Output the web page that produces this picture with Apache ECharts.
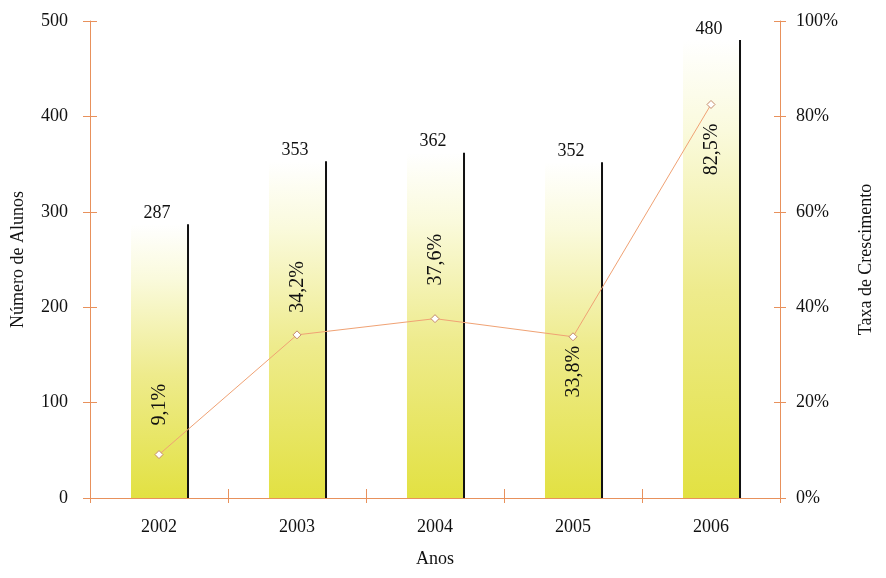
<!DOCTYPE html>
<html>
<head>
<meta charset="utf-8">
<script src="https://cdn.jsdelivr.net/npm/echarts@6/dist/echarts.min.js"></script>
<style>html,body{margin:0;padding:0;background:#fff}#c{width:886px;height:578px}</style>
</head>
<body>
<div id="c"></div>
<script>
const categories = ['2002', '2003', '2004', '2005', '2006'];
const students = [287, 353, 362, 352, 480];
const growth = [9.1, 34.2, 37.6, 33.8, 82.5];
const leftTicks = { min: 0, max: 500, interval: 100 };
const rightTicks = { min: 0, max: 100, interval: 20 };

// label placement (presentation only): screen pixels, negative = above the point
const growthLabelShift = [-50, -48, -59, 35, 45];

const AX = '#e8915c';
const FONT = '"Liberation Serif", "DejaVu Serif", serif';
const TXT = '#111';

const chart = echarts.init(document.getElementById('c'), null, { renderer: 'canvas' });

function fmtPct(v) { return v.toFixed(1).replace('.', ',') + '%'; }

const barGradient = new echarts.graphic.LinearGradient(0, 0, 0, 1, [
  { offset: 0, color: '#ffffff' },
  { offset: 0.2, color: '#fafadc' },
  { offset: 0.55, color: '#eeeb8c' },
  { offset: 1, color: '#e2e142' }
]);

const option = {
  animation: false,
  backgroundColor: '#fff',
  grid: { left: 90, right: 106, top: 21, bottom: 80 },
  xAxis: [
    {
      type: 'category', data: categories, position: 'bottom',
      axisLine: { lineStyle: { color: AX, width: 1 } },
      axisTick: { show: true, length: 5, lineStyle: { color: AX } },
      axisLabel: { color: TXT, fontFamily: FONT, fontSize: 18, margin: 20 },
      name: 'Anos', nameLocation: 'middle', nameGap: 52,
      nameTextStyle: { color: TXT, fontFamily: FONT, fontSize: 18 },
      splitLine: { show: false }
    },
    {
      type: 'category', data: categories, position: 'bottom',
      axisLine: { show: false },
      axisTick: { show: true, inside: true, length: 9, lineStyle: { color: AX } },
      axisLabel: { show: false },
      splitLine: { show: false }
    }
  ],
  yAxis: [
    {
      type: 'value', position: 'left', min: leftTicks.min, max: leftTicks.max, interval: leftTicks.interval,
      axisLine: { show: true, lineStyle: { color: AX } },
      axisTick: { show: true, length: 7, lineStyle: { color: AX } },
      axisLabel: { color: TXT, fontFamily: FONT, fontSize: 18, margin: 22 },
      splitLine: { show: false },
      name: 'Número de Alunos', nameLocation: 'middle', nameGap: 63, nameRotate: 90,
      nameTextStyle: { color: TXT, fontFamily: FONT, fontSize: 18 }
    },
    {
      type: 'value', position: 'right', min: rightTicks.min, max: rightTicks.max, interval: rightTicks.interval,
      axisLine: { show: true, lineStyle: { color: AX } },
      axisTick: { show: true, length: 6, lineStyle: { color: AX } },
      axisLabel: { color: TXT, fontFamily: FONT, fontSize: 18, margin: 16, formatter: '{value}%' },
      splitLine: { show: false },
      name: 'Taxa de Crescimento', nameLocation: 'middle', nameGap: 77, nameRotate: 90,
      nameTextStyle: { color: TXT, fontFamily: FONT, fontSize: 18 }
    },
    {
      type: 'value', position: 'left', min: leftTicks.min, max: leftTicks.max, interval: leftTicks.interval,
      axisLine: { show: false },
      axisTick: { show: true, inside: true, length: 7, lineStyle: { color: AX } },
      axisLabel: { show: false }, splitLine: { show: false }
    },
    {
      type: 'value', position: 'right', min: rightTicks.min, max: rightTicks.max, interval: rightTicks.interval,
      axisLine: { show: false },
      axisTick: { show: true, inside: true, length: 6, lineStyle: { color: AX } },
      axisLabel: { show: false }, splitLine: { show: false }
    }
  ],
  series: [
    {
      type: 'custom',
      xAxisIndex: 0, yAxisIndex: 0,
      data: students.map((v, i) => [i, v]),
      encode: { x: 0, y: 1 },
      z: 2,
      renderItem: function (params, api) {
        const idx = api.value(0), v = api.value(1);
        const top = api.coord([idx, v]);
        const base = api.coord([idx, 0]);
        const band = api.size([1, 0])[0];
        const half = band * 0.203;
        const left = top[0] - half;
        const w = half * 2;
        const h = base[1] - top[1];
        return {
          type: 'group',
          children: [
            { type: 'rect', shape: { x: left, y: top[1], width: w, height: h }, style: { fill: barGradient } },
            { type: 'rect', shape: { x: left + w, y: top[1], width: 2, height: h }, style: { fill: '#111' } },
            {
              type: 'text',
              style: {
                text: String(v), x: top[0] - 2, y: top[1] - 2,
                align: 'center', verticalAlign: 'bottom',
                font: '18px ' + FONT, fill: TXT
              }
            }
          ]
        };
      }
    },
    {
      type: 'line',
      xAxisIndex: 0, yAxisIndex: 1,
      z: 5,
      data: growth.map((v, i) => ({
        value: v,
        // label is rotated 90deg, so its local x axis points up on screen
        label: { offset: [-growthLabelShift[i], 1] }
      })),
      lineStyle: { color: '#f0a274', width: 1 },
      symbol: 'diamond', symbolSize: 8,
      itemStyle: { color: '#ffffff', borderColor: '#c48a6a', borderWidth: 1 },
      label: {
        show: true, position: 'inside', rotate: 90,
        color: TXT, fontFamily: FONT, fontSize: 20,
        formatter: p => fmtPct(p.value)
      }
    }
  ]
};
chart.setOption(option);
</script>
</body>
</html>
